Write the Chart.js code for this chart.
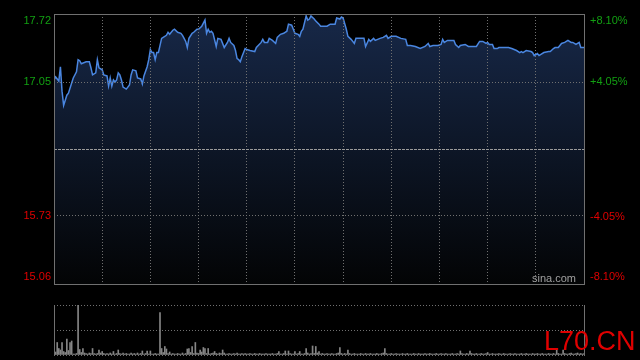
<!DOCTYPE html>
<html>
<head>
<meta charset="utf-8">
<script src="https://cdn.jsdelivr.net/npm/chart.js@4"></script>
<style>
  html, body { margin: 0; padding: 0; background: #000; }
  #wrap { position: relative; width: 640px; height: 360px; overflow: hidden; background: #000;
          font-family: "Liberation Sans", Arial, sans-serif; }
  #price { position: absolute; left: 0; top: 0; }
  #vol { position: absolute; left: 0; top: 290px; }
  .mark { position: absolute; white-space: nowrap; }
  #sina { left: 532px; top: 273px; font-size: 11px; line-height: 11px; color: #a0a0a0; }
  #l70 { left: 544px; top: 328px; font-size: 27px; line-height: 27px; color: #e00000; }
</style>
</head>
<body>
<div id="wrap">
  <canvas id="price" width="640" height="290"></canvas>
  <canvas id="vol" width="640" height="70"></canvas>
  <div class="mark" id="sina">sina.com</div>
  <div class="mark" id="l70">L70.CN</div>
</div>
<script>
// minutes since open (HK session: 330 minutes)
const minutes = [
  0,1,3,4,5,6,8,9,11,12,14,15,16,17,20,22,23,24,26,27,28,30,31,33,34,35,36,37,38,39,
  40,41,42,43,45,47,48,49,51,52,54,55,56,58,59,60,61,62,63,64,65,67,68,70,71,72,74,75,77,79,
  80,81,82,83,84,86,87,89,90,92,93,94,95,96,97,98,99,101,102,104,106,108,109,110,112,113,114,115,116,117,
  119,120,122,125,126,129,130,131,133,134,136,138,139,141,143,145,146,148,149,150,152,153,154,155,157,158,159,160,162,163,
  165,166,168,170,172,175,176,178,179,180,182,183,185,187,188,190,193,194,196,197,199,200,203,205,207,208,210,213,216,219,
  220,222,225,228,231,233,234,236,239,241,242,243,245,248,249,250,252,253,256,258,263,265,267,269,270,271,273,274,276,277,
  280,283,285,288,290,291,292,294,297,298,299,301,302,305,308,309,311,312,314,316,318,320,322,323,325,327,328,330
];
const prices = [
  17.07,17.10,17.06,17.20,16.96,16.82,16.92,16.94,17.04,17.09,17.15,17.27,17.26,17.23,17.25,17.25,17.19,17.12,17.14,17.27,
  17.19,17.17,17.12,17.11,17.01,17.09,17.01,17.07,17.05,17.07,17.14,17.12,17.07,17.00,16.98,17.02,17.12,17.17,17.16,17.09,
  17.08,17.03,17.11,17.20,17.27,17.37,17.34,17.34,17.27,17.34,17.34,17.48,17.49,17.51,17.54,17.52,17.56,17.57,17.54,17.53,
  17.51,17.48,17.45,17.39,17.48,17.53,17.54,17.57,17.57,17.60,17.63,17.66,17.53,17.57,17.54,17.55,17.53,17.40,17.48,17.47,
  17.39,17.44,17.48,17.44,17.41,17.36,17.28,17.27,17.25,17.30,17.38,17.37,17.36,17.35,17.39,17.44,17.47,17.44,17.44,17.48,
  17.46,17.43,17.49,17.52,17.53,17.55,17.62,17.61,17.57,17.53,17.52,17.50,17.55,17.57,17.70,17.66,17.67,17.70,17.67,17.65,
  17.62,17.60,17.60,17.60,17.62,17.62,17.68,17.67,17.69,17.68,17.57,17.50,17.47,17.43,17.48,17.48,17.48,17.40,17.47,17.45,
  17.48,17.46,17.48,17.49,17.51,17.48,17.50,17.50,17.48,17.47,17.41,17.41,17.40,17.38,17.40,17.43,17.40,17.41,17.41,17.42,
  17.47,17.44,17.46,17.46,17.46,17.42,17.39,17.41,17.42,17.40,17.40,17.45,17.45,17.43,17.44,17.42,17.42,17.38,17.38,17.39,
  17.39,17.39,17.38,17.36,17.34,17.35,17.34,17.36,17.35,17.34,17.31,17.33,17.31,17.34,17.35,17.35,17.38,17.39,17.39,17.43,
  17.44,17.46,17.44,17.44,17.42,17.44,17.39,17.39
];
// volume per minute, relative to the session's largest bar (=100)
const volumes = [
  19,6,25,13,10,25,7,5,32,9, 25,28,2,2,3,100,11,5,13,4, 3,2,4,3,13,3,2,3,10,4,
  7,3,2,3,2,4,2,7,2,3, 10,3,2,4,2,3,2,2,4,2, 3,2,4,2,3,8,2,3,8,2,
  8,2,2,3,2,2,85,13,5,17, 12,3,6,2,3,2,2,3,2,2, 4,2,3,12,13,5,17,3,25,4,
  3,10,6,15,13,3,13,2,3,4, 7,3,2,4,3,10,4,2,2,3, 2,2,3,2,4,2,2,3,2,3,
  2,2,3,2,2,3,2,2,3,2, 2,2,3,2,2,2,3,2,2,3, 7,2,2,3,8,2,8,3,2,2,
  7,2,3,7,2,2,3,13,4,2, 3,18,3,17,4,7,2,3,2,2, 3,2,2,3,2,2,3,4,15,3,
  2,3,2,10,3,2,2,3,2,2, 2,3,2,2,3,2,2,3,2,2, 2,3,2,2,3,4,13,3,2,2,
  3,2,2,3,2,2,2,3,2,2, 3,2,2,2,3,2,2,3,2,2, 2,3,2,2,3,2,2,2,3,2,
  2,3,2,2,3,2,2,2,3,2, 2,3,2,8,3,2,2,3,2,8, 3,2,2,3,2,2,3,2,2,3,
  5,2,2,3,2,2,2,3,2,2, 3,2,2,2,3,2,2,3,2,2, 2,3,2,2,3,2,2,2,3,2,
  2,3,2,2,3,2,2,2,3,2, 2,3,2,10,3,2,2,10,3,2, 2,3,4,2,2,3,4,2,3,2,
  3
];
const prevClose = 16.39;
const priceTicks = [15.06, 15.73, 16.39, 17.05, 17.72];
const pctTicks = [-8.10, -4.05, 0, 4.05, 8.10];
const volTicks = [0, 50, 100];

const green = "#12a012";
const red = "#e00000";
const gridColor = "#707070";
const frameColor = "#707070";
const font = { family: '"Liberation Sans", Arial, sans-serif', size: 11 };

const isMid = (v) => Math.abs(v - prevClose) < 0.001;

const priceFrame = {
  id: "priceFrame",
  afterDraw(chart) {
    const { ctx, chartArea: a } = chart;
    const y = chart.scales.y.getPixelForValue(prevClose);
    ctx.save();
    ctx.strokeStyle = "#9a9a9a";
    ctx.lineWidth = 1;
    ctx.setLineDash([3, 1]);
    ctx.beginPath();
    ctx.moveTo(a.left, Math.round(y) + 0.5);
    ctx.lineTo(a.right, Math.round(y) + 0.5);
    ctx.stroke();
    ctx.setLineDash([]);
    ctx.strokeStyle = frameColor;
    ctx.strokeRect(a.left + 0.5, a.top + 0.5, a.right - a.left, a.bottom - a.top);
    ctx.restore();
  }
};

const volFrame = {
  id: "volFrame",
  afterDraw(chart) {
    const { ctx, chartArea: a } = chart;
    ctx.save();
    ctx.strokeStyle = frameColor;
    ctx.lineWidth = 1;
    ctx.beginPath();
    ctx.moveTo(a.left + 0.5, a.top);
    ctx.lineTo(a.left + 0.5, a.bottom + 1);
    ctx.moveTo(a.right + 0.5, a.top);
    ctx.lineTo(a.right + 0.5, a.bottom + 1);
    ctx.stroke();
    ctx.restore();
  }
};

new Chart(document.getElementById("price"), {
  type: "line",
  data: {
    datasets: [{
      data: minutes.map((m, i) => ({ x: m, y: prices[i] })),
      borderColor: "#4a86e0",
      borderWidth: 1.5,
      pointRadius: 0,
      tension: 0,
      fill: "start",
      backgroundColor: (c) => {
        const a = c.chart.chartArea;
        if (!a) return "#14223d";
        const g = c.chart.ctx.createLinearGradient(0, a.top, 0, a.bottom);
        g.addColorStop(0, "#172848");
        g.addColorStop(1, "#030405");
        return g;
      },
    }],
  },
  options: {
    responsive: false,
    animation: false,
    devicePixelRatio: 1,
    layout: { padding: { top: 14, bottom: 6 } },
    plugins: { legend: { display: false }, tooltip: { enabled: false } },
    scales: {
      x: {
        type: "linear",
        min: 0,
        max: 330,
        ticks: { display: false, stepSize: 30 },
        grid: { color: gridColor, drawTicks: false, z: 1 },
        border: { display: false, dash: [1, 2] },
      },
      y: {
        position: "left",
        min: 15.06,
        max: 17.72,
        afterBuildTicks: (s) => { s.ticks = priceTicks.map((v) => ({ value: v })); },
        afterFit: (s) => { s.width = 54; s.paddingTop = 0; s.paddingBottom = 0; },
        ticks: {
          padding: 3,
          font,
          color: (c) => (c.tick.value > prevClose ? green : red),
          callback: (v) => {
            const t = v.toFixed(2);
            if (isMid(v)) return "";
            if (v === priceTicks[priceTicks.length - 1]) return ["", t];
            if (v === priceTicks[0]) return [t, ""];
            return t;
          },
        },
        grid: {
          color: (c) => (c.tick && isMid(c.tick.value) ? "rgba(0,0,0,0)" : gridColor),
          drawTicks: false,
          z: 1,
        },
        border: { display: false, dash: [1, 2] },
      },
      y1: {
        position: "right",
        min: -8.1,
        max: 8.1,
        afterBuildTicks: (s) => { s.ticks = pctTicks.map((v) => ({ value: v })); },
        afterFit: (s) => { s.width = 56; s.paddingTop = 0; s.paddingBottom = 0; },
        ticks: {
          padding: 6,
          font,
          color: (c) => (c.tick.value > 0 ? green : red),
          callback: (v) => {
            if (v === 0) return "";
            const t = (v > 0 ? "+" : "") + v.toFixed(2) + "%";
            if (v === pctTicks[pctTicks.length - 1]) return ["", t];
            if (v === pctTicks[0]) return [t, ""];
            return t;
          },
        },
        grid: { display: false, drawTicks: false },
        border: { display: false },
      },
    },
  },
  plugins: [priceFrame],
});

new Chart(document.getElementById("vol"), {
  type: "bar",
  data: {
    datasets: [{
      data: volumes.map((v, i) => ({ x: i, y: v })),
      backgroundColor: "#858585",
      borderWidth: 0,
      barThickness: 1,
    }],
  },
  options: {
    responsive: false,
    animation: false,
    devicePixelRatio: 1,
    layout: { padding: { top: 15, bottom: 5, right: 56 } },
    plugins: { legend: { display: false }, tooltip: { enabled: false } },
    scales: {
      x: { type: "linear", min: 0, max: 330, offset: false, display: false },
      y: {
        min: 0,
        max: 100,
        afterBuildTicks: (s) => { s.ticks = volTicks.map((v) => ({ value: v })); },
        afterFit: (s) => { s.width = 54; s.paddingTop = 0; s.paddingBottom = 0; },
        ticks: { display: false },
        grid: { color: gridColor, drawTicks: false },
        border: { display: false, dash: [1, 2] },
      },
    },
  },
  plugins: [volFrame],
});
</script>
</body>
</html>
